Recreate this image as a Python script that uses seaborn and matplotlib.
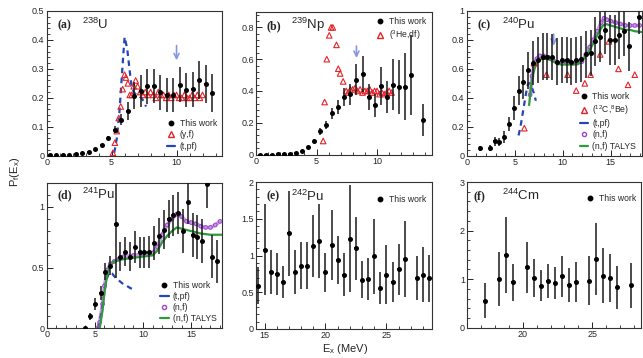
import matplotlib
matplotlib.use("Agg")
import matplotlib.pyplot as plt
from matplotlib.lines import Line2D
from matplotlib.ticker import FuncFormatter
import seaborn as sns

# ---------------- (a) 238U ----------------
A_X = [0.25, 0.75, 1.25, 1.75, 2.25, 2.75, 3.25, 3.75, 4.25, 4.75, 5.25, 5.75, 6.25,
       6.75, 7.25, 7.75, 8.25, 8.75, 9.25, 9.75, 10.25, 10.75, 11.25, 11.75, 12.25, 12.75]
A_Y = [0.003, 0.003, 0.003, 0.004, 0.005, 0.008, 0.013, 0.022, 0.037, 0.062, 0.089, 0.125, 0.155,
       0.208, 0.224, 0.240, 0.241, 0.219, 0.210, 0.210, 0.245, 0.227, 0.230, 0.262, 0.248, 0.216]
A_ERR = [0.001, 0.001, 0.001, 0.001, 0.001, 0.002, 0.002, 0.003, 0.004, 0.006, 0.012, 0.02, 0.03,
         0.045, 0.055, 0.06, 0.06, 0.06, 0.06, 0.06, 0.06, 0.06, 0.06, 0.065, 0.065, 0.065]
A_GF_X = [5.1, 5.25, 5.4, 5.55, 5.7, 5.85, 6.0, 6.1, 6.25, 6.4, 6.55, 6.7, 6.85, 7.0, 7.2, 7.4,
          7.6, 7.8, 8.0, 8.2, 8.4, 8.6, 8.8, 9.0, 9.2, 9.4, 9.6, 9.8, 10.0, 10.2, 10.4, 10.6,
          10.8, 11.0, 11.2, 11.4, 11.6, 11.8, 12.0]
A_GF_Y = [0.01, 0.045, 0.085, 0.13, 0.17, 0.23, 0.28, 0.27, 0.25, 0.21, 0.21, 0.24, 0.26, 0.24,
          0.22, 0.21, 0.22, 0.21, 0.22, 0.21, 0.20, 0.22, 0.21, 0.21, 0.20, 0.21, 0.20, 0.21,
          0.21, 0.20, 0.20, 0.21, 0.20, 0.20, 0.21, 0.20, 0.21, 0.20, 0.21]
A_TPF_X = [5.2, 5.4, 5.6, 5.75, 5.9, 6.0, 6.1, 6.2, 6.3, 6.4, 6.5, 6.7, 6.9, 7.1, 7.3, 7.5, 7.65]
A_TPF_Y = [0.01, 0.06, 0.15, 0.25, 0.35, 0.41, 0.39, 0.37, 0.33, 0.29, 0.25, 0.22, 0.21, 0.205,
           0.20, 0.185, 0.17]

# ---------------- (b) 239Np ----------------
B_X = [0.3, 0.8, 1.3, 1.8, 2.3, 2.8, 3.3, 3.8, 4.3, 4.8, 5.3, 5.8, 6.3, 6.8, 7.3, 7.8, 8.3,
       8.8, 9.3, 9.8, 10.3, 10.8, 11.3, 11.8, 12.3, 12.8, 13.8]
B_Y = [0.0, 0.0, 0.0, 0.001, 0.002, 0.004, 0.008, 0.025, 0.047, 0.085, 0.145, 0.187, 0.26,
       0.298, 0.362, 0.379, 0.472, 0.506, 0.362, 0.309, 0.43, 0.362, 0.44, 0.426, 0.426, 0.50, 0.217]
B_ERR = [0.002, 0.002, 0.002, 0.002, 0.002, 0.002, 0.003, 0.005, 0.008, 0.012, 0.02, 0.025, 0.035,
         0.045, 0.055, 0.065, 0.10, 0.115, 0.08, 0.07, 0.12, 0.10, 0.16, 0.17, 0.21, 0.25, 0.10]
B_HE_X = [5.55, 5.67, 5.85, 6.05, 6.2, 6.35, 6.65, 6.8, 6.95, 7.2, 7.45, 7.6, 7.8, 8.0, 8.2, 8.4,
          8.6, 8.8, 9.0, 9.2, 9.4, 9.6, 9.8, 10.0, 10.2, 10.4, 10.6, 10.8, 11.0, 11.2]
B_HE_Y = [0.085, 0.33, 0.60, 0.75, 0.80, 0.80, 0.69, 0.54, 0.51, 0.46, 0.40, 0.39, 0.41, 0.41,
          0.42, 0.40, 0.41, 0.39, 0.40, 0.40, 0.41, 0.39, 0.40, 0.40, 0.38, 0.39, 0.38, 0.39, 0.40, 0.39]

# ---------------- (c) 240Pu ----------------
C_X = [1.4, 2.4, 2.9, 3.4, 3.9, 4.4, 4.9, 5.4, 5.9, 6.4, 6.9, 7.4, 7.9, 8.4, 8.9, 9.4, 9.9,
       10.4, 10.9, 11.4, 11.9, 12.4, 12.9, 13.4, 13.9, 14.4, 14.9, 15.4, 15.9, 16.4, 16.9, 17.9]
C_Y = [0.05, 0.055, 0.10, 0.095, 0.13, 0.22, 0.33, 0.45, 0.51, 0.59, 0.64, 0.66, 0.685, 0.685,
       0.68, 0.65, 0.66, 0.66, 0.65, 0.66, 0.67, 0.70, 0.71, 0.79, 0.82, 0.87, 0.80, 0.80, 0.835,
       0.86, 0.755, 0.96]
C_ERR = [0.02, 0.02, 0.03, 0.03, 0.04, 0.05, 0.08, 0.10, 0.12, 0.13, 0.15, 0.16, 0.16, 0.16,
         0.16, 0.16, 0.16, 0.16, 0.16, 0.16, 0.16, 0.16, 0.16, 0.17, 0.17, 0.17, 0.17, 0.17, 0.17,
         0.17, 0.17, 0.12]
C_CBE_X = [6.0, 7.0, 8.3, 10.5, 11.4, 12.3, 12.9, 13.9, 14.8, 15.8, 16.8, 17.5]
C_CBE_Y = [0.19, 0.64, 0.56, 0.56, 0.45, 0.50, 0.56, 0.70, 0.79, 0.60, 0.49, 0.56]
C_TPF_X = [5.4, 5.6, 5.8, 6.0, 6.2, 6.4, 6.6, 6.8, 7.0, 7.2]
C_TPF_Y = [0.14, 0.20, 0.28, 0.36, 0.44, 0.50, 0.50, 0.47, 0.43, 0.38]
C_NF_X = [6.6, 6.8, 7.0, 7.3, 7.6, 8.0, 8.5, 9.0, 9.5, 10.0, 10.5, 11.0, 11.5, 12.0, 12.4, 12.8,
          13.2, 13.6, 14.0, 14.3, 14.6, 15.0, 15.5, 16.0, 16.5, 17.0, 17.5, 18.0]
C_NF_Y = [0.42, 0.55, 0.62, 0.67, 0.69, 0.69, 0.68, 0.66, 0.64, 0.64, 0.64, 0.64, 0.64, 0.65,
          0.70, 0.75, 0.80, 0.86, 0.92, 0.95, 0.94, 0.93, 0.92, 0.91, 0.90, 0.90, 0.90, 0.90]
C_TA_X = [6.5, 6.7, 6.9, 7.1, 7.4, 7.8, 8.3, 8.8, 9.3, 9.8, 10.5, 11.2, 11.8, 12.3, 12.8, 13.3,
          13.8, 14.2, 14.5, 15.0, 15.5, 16.0, 16.5, 17.0, 17.5, 18.2]
C_TA_Y = [0.35, 0.48, 0.56, 0.61, 0.65, 0.67, 0.67, 0.66, 0.64, 0.63, 0.63, 0.63, 0.64, 0.68,
          0.73, 0.79, 0.86, 0.90, 0.91, 0.90, 0.89, 0.88, 0.87, 0.87, 0.86, 0.855]

# ---------------- (d) 241Pu ----------------
D_X = [4.0, 4.5, 5.0, 5.6, 6.1, 6.6, 7.15, 7.65, 8.15, 8.65, 9.15, 9.65, 10.15, 10.65, 11.15,
       11.65, 12.15, 12.65, 13.15, 13.65, 14.15, 14.65, 15.15, 15.65, 16.15, 16.65, 17.15, 17.65]
D_Y = [0.0, 0.10, 0.20, 0.29, 0.466, 0.515, 0.86, 0.59, 0.63, 0.59, 0.67, 0.625, 0.625, 0.63,
       0.70, 0.76, 0.81, 0.90, 0.93, 0.95, 0.80, 1.04, 0.77, 0.75, 0.72, 1.19, 0.59, 0.55]
D_ERR = [0.01, 0.03, 0.05, 0.06, 0.07, 0.08, 0.45, 0.12, 0.12, 0.12, 0.13, 0.13, 0.13, 0.13,
         0.14, 0.15, 0.16, 0.16, 0.17, 0.17, 0.18, 0.18, 0.18, 0.18, 0.18, 0.2, 0.18, 0.18]
D_TPF_X = [5.3, 5.6, 5.9, 6.2, 6.5, 6.8, 7.1, 7.4, 7.7, 8.0, 8.3, 8.7, 9.1]
D_TPF_Y = [0.0, 0.10, 0.25, 0.40, 0.46, 0.45, 0.42, 0.40, 0.38, 0.36, 0.35, 0.33, 0.32]
D_NF_X = [5.3, 5.5, 5.8, 6.0, 6.3, 6.6, 7.0, 7.5, 8.0, 9.0, 10.0, 11.0, 11.5, 12.0, 12.5, 13.0,
          13.5, 14.0, 14.5, 15.0, 15.5, 16.0, 16.5, 17.0, 17.5, 18.0]
D_NF_Y = [0.0, 0.05, 0.20, 0.35, 0.48, 0.53, 0.55, 0.57, 0.59, 0.60, 0.61, 0.62, 0.67, 0.77,
          0.85, 0.90, 0.94, 0.92, 0.88, 0.87, 0.86, 0.84, 0.83, 0.83, 0.85, 0.88]
D_TA_X = [5.5, 5.8, 6.0, 6.3, 6.6, 7.0, 8.0, 9.0, 10.0, 11.0, 11.5, 12.0, 12.5, 13.0, 13.5,
          14.0, 15.0, 16.0, 17.0, 18.2]
D_TA_Y = [0.0, 0.15, 0.30, 0.45, 0.52, 0.55, 0.57, 0.58, 0.59, 0.60, 0.64, 0.71, 0.76, 0.80,
          0.83, 0.82, 0.80, 0.78, 0.77, 0.77]

# ---------------- (e) 242Pu ----------------
E_X = [14.5, 15.0, 15.5, 16.0, 16.5, 17.0, 17.5, 18.0, 18.5, 19.0, 19.5, 20.0, 20.5, 21.0,
       21.5, 22.0, 22.5, 23.0, 23.5, 24.0, 24.5, 25.0, 25.5, 26.0, 26.5, 27.5, 28.0, 28.5]
E_Y = [0.59, 1.08, 0.77, 0.75, 0.64, 1.30, 0.77, 0.86, 0.86, 1.13, 1.20, 0.77, 1.14, 0.94,
       0.74, 1.23, 1.10, 0.67, 0.68, 0.99, 0.56, 0.74, 0.64, 0.81, 0.95, 0.69, 0.74, 0.69]
E_ERR = [0.25, 0.62, 0.30, 0.29, 0.22, 0.58, 0.30, 0.32, 0.32, 0.42, 0.50, 0.26, 0.48, 0.33,
         0.29, 0.73, 0.43, 0.25, 0.28, 0.51, 0.22, 0.40, 0.27, 0.35, 0.52, 0.30, 0.37, 0.32]

# ---------------- (f) 244Cm ----------------
F_X = [17.3, 18.3, 18.8, 19.3, 20.3, 20.8, 21.3, 21.8, 22.3, 22.8, 23.3, 23.8, 24.8, 25.3,
       25.8, 26.3, 26.8, 27.8]
F_Y = [0.56, 1.00, 1.50, 0.94, 1.24, 1.03, 0.86, 0.97, 0.93, 1.06, 0.88, 0.94, 0.97, 1.41,
       1.07, 1.02, 0.83, 0.87]
F_ERR = [0.37, 0.55, 0.78, 0.38, 0.53, 0.39, 0.32, 0.35, 0.33, 0.42, 0.35, 0.41, 0.50, 0.74,
         0.57, 0.50, 0.45, 0.46]

W, H = 643, 358
RED = "#e3242b"
BLUE = "#2547b5"
PURPLE = "#9b45cf"
GREEN = "#2f9a3b"
ARROW = "#8797df"

sns.set_style("ticks")
plt.rcParams["font.family"] = ["Liberation Sans", "DejaVu Sans"]
plt.rcParams["mathtext.fontset"] = "custom"
plt.rcParams["mathtext.rm"] = "Liberation Sans"
plt.rcParams["mathtext.it"] = "Liberation Sans:italic"
plt.rcParams["mathtext.bf"] = "Liberation Sans:bold"


def frame(fig, x0, y0, x1, y1):
    return fig.add_axes([x0 / W, 1 - y1 / H, (x1 - x0) / W, (y1 - y0) / H])


def style(ax, xlim, ylim, xticks, yticks, xminor, yminor):
    ax.set_xlim(*xlim)
    ax.set_ylim(*ylim)
    ax.set_xticks(xticks)
    ax.set_yticks(yticks)
    ax.set_xticks(xminor, minor=True)
    ax.set_yticks(yminor, minor=True)
    fmt = FuncFormatter(lambda v, _: f"{v:g}")
    ax.xaxis.set_major_formatter(fmt)
    ax.yaxis.set_major_formatter(fmt)
    ax.tick_params(which="both", direction="in", top=False, right=False,
                   labelsize=6.5, pad=1.5, color="#222")
    ax.tick_params(which="major", length=4, width=0.7)
    ax.tick_params(which="minor", length=2, width=0.6)
    for s in ax.spines.values():
        s.set_linewidth(0.8)
        s.set_color("#333")
    ax.set_xlabel("")
    ax.set_ylabel("")


def rng(lo, hi, step):
    out, v = [], lo
    while v <= hi + 1e-9:
        out.append(round(v, 4))
        v += step
    return out


def this_work(ax, x, y, err):
    ax.errorbar(x, y, yerr=err, xerr=0.12, fmt="none", ecolor="#1a1a1a",
                elinewidth=1.1, capsize=0, zorder=5)
    sns.scatterplot(x=x, y=y, color="black", s=13, linewidth=0, ax=ax, zorder=6)


def triangles(ax, x, y):
    sns.scatterplot(x=x, y=y, marker="^", s=16, color=RED, facecolor="none",
                    edgecolor=RED, linewidth=0.8, ax=ax, zorder=4)


def dashed(ax, x, y):
    sns.lineplot(x=x, y=y, color=BLUE, lw=1.6, linestyle=(0, (2.5, 2.0)),
                 sort=False, estimator=None, ax=ax, zorder=3)


def purple(ax, x, y):
    sns.lineplot(x=x, y=y, color=PURPLE, lw=2.6, alpha=0.55, sort=False,
                 estimator=None, ax=ax, zorder=3)
    sns.scatterplot(x=x, y=y, marker="o", s=7, color=PURPLE, facecolor="none",
                    edgecolor=PURPLE, linewidth=0.7, ax=ax, zorder=3)


def talys(ax, x, y):
    sns.lineplot(x=x, y=y, color=GREEN, lw=1.6, sort=False, estimator=None,
                 ax=ax, zorder=3)


def arrow(ax, x, y0, y1):
    ax.annotate("", xy=(x, y1), xytext=(x, y0),
                arrowprops=dict(arrowstyle="->", color=ARROW, lw=1.2,
                                mutation_scale=9))


def labels(ax, tag, nucl, tx=0.06, nx=0.2, y=0.9):
    ax.text(tx, y, tag, transform=ax.transAxes, fontsize=8.5,
            family=["Liberation Serif", "DejaVu Serif"], weight="bold", va="center")
    ax.text(nx, y + 0.005, nucl, transform=ax.transAxes, fontsize=9.5, va="center")


H_WORK = Line2D([], [], marker="o", color="black", ls="none", markersize=3.2, label="This work")
H_TPF = Line2D([], [], color=BLUE, lw=1.6, label="(t,pf)")
H_NF = Line2D([], [], marker="o", color=PURPLE, mfc="none", ls="none", markersize=3,
              label="(n,f)")
H_TA = Line2D([], [], color=GREEN, lw=1.6, label="(n,f) TALYS")


def tri(label):
    return Line2D([], [], marker="^", color=RED, mfc="none", ls="none", markersize=4,
                  label=label)


def legend(ax, handles, loc, anchor):
    ax.legend(handles=handles, loc=loc, bbox_to_anchor=anchor, frameon=False,
              fontsize=6.2, handlelength=1.0, handletextpad=0.5, labelspacing=0.25,
              borderaxespad=0.2)


fig = plt.figure(figsize=(W / 100, H / 100), dpi=100)

# (a)
ax = frame(fig, 46.7, 11, 222, 155.7)
dashed(ax, A_TPF_X, A_TPF_Y)
triangles(ax, A_GF_X, A_GF_Y)
this_work(ax, A_X, A_Y, A_ERR)
arrow(ax, 10.0, 0.39, 0.32)
style(ax, (0, 13.5), (0, 0.5), [0, 5, 10], [0, 0.1, 0.2, 0.3, 0.4, 0.5],
      rng(0, 13.5, 1), rng(0, 0.5, 0.02))
labels(ax, "(a)", "$^{238}$U")
legend(ax, [H_WORK, tri("(γ,f)"), H_TPF], "lower right", (1.0, 0.0))

# (b)
ax = frame(fig, 256, 11.5, 431.5, 154.5)
triangles(ax, B_HE_X, B_HE_Y)
this_work(ax, B_X, B_Y, B_ERR)
arrow(ax, 8.3, 0.70, 0.59)
style(ax, (0, 14.5), (0, 0.9), [0, 5, 10], [0, 0.2, 0.4, 0.6, 0.8],
      rng(0, 14.5, 1), rng(0, 0.9, 0.04))
labels(ax, "(b)", "$^{239}$Np")
legend(ax, [H_WORK, tri("($^{3}$He,df)")], "upper right", (1.0, 1.0))

# (c)
ax = frame(fig, 466.7, 11, 641.5, 155.7)
dashed(ax, C_TPF_X, C_TPF_Y)
purple(ax, C_NF_X, C_NF_Y)
talys(ax, C_TA_X, C_TA_Y)
triangles(ax, C_CBE_X, C_CBE_Y)
this_work(ax, C_X, C_Y, C_ERR)
arrow(ax, 9.05, 0.86, 0.74)
style(ax, (0, 18.2), (0, 1.0), [0, 5, 10, 15], [0, 0.2, 0.4, 0.6, 0.8, 1.0],
      rng(0, 18, 1), rng(0, 1.0, 0.04))
labels(ax, "(c)", "$^{240}$Pu")
legend(ax, [H_WORK, tri("($^{12}$C,$^{8}$Be)"), H_TPF, H_NF, H_TA], "lower right", (1.0, 0.0))

# (d)
ax = frame(fig, 46.7, 182.5, 222, 328.3)
dashed(ax, D_TPF_X, D_TPF_Y)
purple(ax, D_NF_X, D_NF_Y)
talys(ax, D_TA_X, D_TA_Y)
this_work(ax, D_X, D_Y, D_ERR)
style(ax, (0, 18.2), (0, 1.2), [0, 5, 10, 15], [0, 0.5, 1.0],
      rng(0, 18, 1), rng(0, 1.2, 0.1))
labels(ax, "(d)", "$^{241}$Pu", y=0.91)
legend(ax, [H_WORK, H_TPF, H_NF, H_TA], "lower right", (1.0, 0.0))

# (e)
ax = frame(fig, 256, 182, 431.5, 329)
this_work(ax, E_X, E_Y, E_ERR)
style(ax, (14.3, 28.7), (0, 2.0), [15, 20, 25], [0, 0.5, 1.0, 1.5, 2.0],
      rng(15, 28, 1), rng(0, 2.0, 0.1))
labels(ax, "(e)", "$^{242}$Pu")
legend(ax, [H_WORK], "upper right", (1.0, 0.95))

# (f)
ax = frame(fig, 467, 182, 641, 327.7)
this_work(ax, F_X, F_Y, F_ERR)
style(ax, (16.0, 28.5), (0, 3.0), [20, 25], [0, 1, 2, 3],
      rng(16, 28, 1), rng(0, 3.0, 0.2))
labels(ax, "(f)", "$^{244}$Cm", tx=0.04, nx=0.2)
legend(ax, [H_WORK], "upper right", (1.0, 0.95))

fig.text(15 / W, 1 - 172 / H, r"P$_{\rm f}$(E$_{\rm x}$)", rotation=90, fontsize=8,
         ha="center", va="center")
fig.text(345 / W, 1 - 349 / H, r"E$_{\rm x}$ (MeV)", fontsize=8, ha="center", va="center")

fig.savefig("out.png", dpi=100)
